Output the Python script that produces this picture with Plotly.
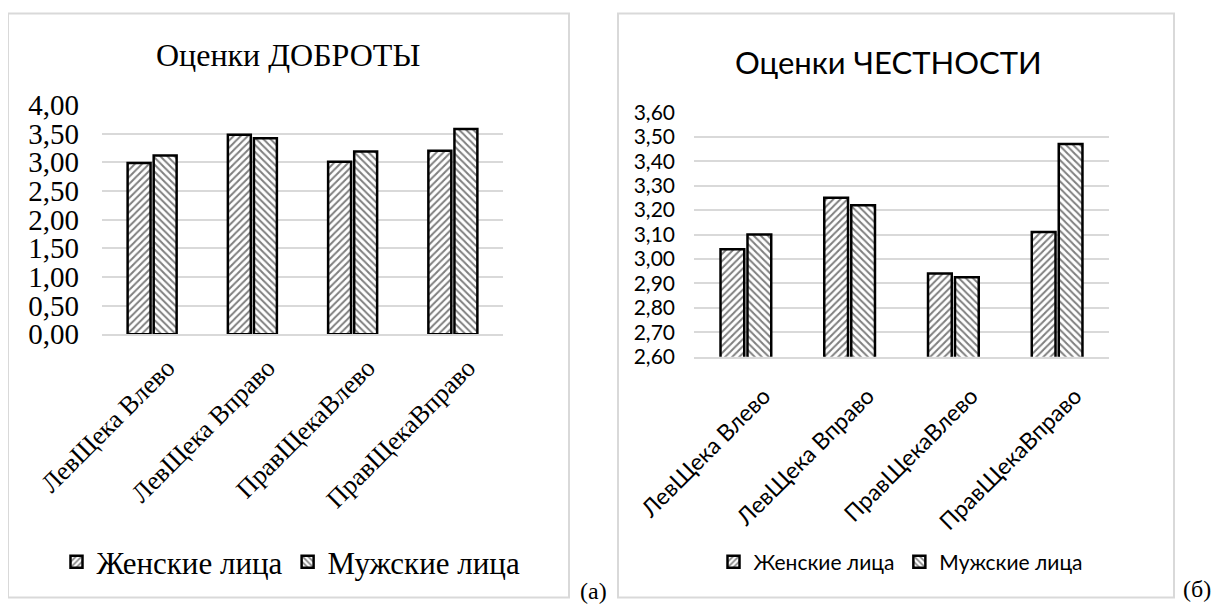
import plotly.graph_objects as go

# page body adds an 8px margin; the figure is sized to fit the window
OFF = 8
W, H = 1220 - OFF, 606 - OFF

categories = ["ЛевЩека Влево", "ЛевЩека Вправо", "ПравЩекаВлево", "ПравЩекаВправо"]
series_names = ["Женские лица", "Мужские лица"]

kind_female = [2.99, 3.48, 3.01, 3.20]
kind_male = [3.12, 3.42, 3.19, 3.58]

honest_female = [3.04, 3.25, 2.94, 3.11]
honest_male = [3.10, 3.22, 2.925, 3.47]

title_left = "Оценки ДОБРОТЫ"
title_right = "Оценки ЧЕСТНОСТИ"

SERIF = "Liberation Serif, Times New Roman, serif"
SANS = "Lato, Carlito, Calibri, Open Sans, sans-serif"
GRID = "#d9d9d9"


def px_x(v):
    return (v - OFF) / W


def px_y(v):
    return 1 - (v - OFF) / H


fig = go.Figure()

patterns = ["/", "\\"]
for i, (name, vals) in enumerate(zip(series_names, [kind_female, kind_male])):
    fig.add_trace(go.Bar(
        x=categories, y=vals, name=name, xaxis="x", yaxis="y", legend="legend",
        marker=dict(color="white", line=dict(color="black", width=2.5),
                    pattern=dict(shape=patterns[i], fgcolor="black", bgcolor="white",
                                 size=5, solidity=0.4)),
    ))
for i, (name, vals) in enumerate(zip(series_names, [honest_female, honest_male])):
    fig.add_trace(go.Bar(
        x=categories, y=vals, name=name, xaxis="x2", yaxis="y2", legend="legend2",
        marker=dict(color="white", line=dict(color="black", width=2.5),
                    pattern=dict(shape=patterns[i], fgcolor="black", bgcolor="white",
                                 size=5, solidity=0.4)),
    ))

fig.update_layout(
    width=W, height=H,
    margin=dict(l=0, r=0, t=0, b=0, autoexpand=False),
    paper_bgcolor="white", plot_bgcolor="white",
    separators=",.",
    barmode="group", bargap=0.48, bargroupgap=0.12,
    xaxis=dict(domain=[px_x(102), px_x(503)], anchor="y", tickangle=-45, automargin=False,
               showgrid=False, showline=True, linecolor=GRID, linewidth=1.5,
               ticks="", tickfont=dict(family=SERIF, size=26, color="black"),
               ticklabelstandoff=6, ticklabelshift=15),
    yaxis=dict(domain=[px_y(334.3), px_y(105)], anchor="x", range=[0, 4], dtick=0.5,
               automargin=False,
               tickformat=".2f", showgrid=True, gridcolor=GRID, gridwidth=1.5,
               zeroline=False, showline=False, ticks="",
               tickfont=dict(family=SERIF, size=29, color="black"),
               ticklabelstandoff=22),
    xaxis2=dict(domain=[px_x(694), px_x(1109)], anchor="y2", tickangle=-45, automargin=False,
                showgrid=False, showline=True, linecolor=GRID, linewidth=1.5,
                ticks="", tickfont=dict(family=SANS, size=23, color="black"),
                ticklabelstandoff=15, ticklabelshift=18),
    yaxis2=dict(domain=[px_y(356.7), px_y(112.3)], anchor="x2", range=[2.6, 3.6], dtick=0.1,
                automargin=False,
                tickformat=".2f", showgrid=True, gridcolor=GRID, gridwidth=1.5,
                zeroline=False, showline=False, ticks="",
                tickfont=dict(family=SANS, size=21, color="black"),
                ticklabelstandoff=18),
    legend=dict(orientation="h", x=px_x(291), xanchor="center", y=px_y(562), yanchor="middle",
                font=dict(family=SERIF, size=31, color="black"), bgcolor="rgba(0,0,0,0)",
                itemwidth=30),
    legend2=dict(orientation="h", x=px_x(901), xanchor="center", y=px_y(562), yanchor="middle",
                 font=dict(family=SANS, size=21, color="black"), bgcolor="rgba(0,0,0,0)",
                 itemwidth=30),
    showlegend=True,
)

# chart frames
for x0, x1 in [(8, 569), (618, 1174)]:
    fig.add_shape(type="rect", xref="paper", yref="paper",
                  x0=px_x(x0), x1=px_x(x1), y0=px_y(597.5), y1=px_y(13.5),
                  line=dict(color=GRID, width=2), fillcolor="rgba(0,0,0,0)", layer="below")

fig.add_annotation(text=title_left, xref="paper", yref="paper", x=px_x(288), y=px_y(55),
                   xanchor="center", yanchor="middle", showarrow=False,
                   font=dict(family=SERIF, size=32, color="black"))
fig.add_annotation(text=title_right, xref="paper", yref="paper", x=px_x(888), y=px_y(62),
                   xanchor="center", yanchor="middle", showarrow=False,
                   font=dict(family=SANS, size=31, color="black"))
fig.add_annotation(text="(а)", xref="paper", yref="paper", x=px_x(593), y=px_y(591),
                   xanchor="center", yanchor="middle", showarrow=False,
                   font=dict(family=SERIF, size=24, color="black"))
fig.add_annotation(text="(б)", xref="paper", yref="paper", x=px_x(1197), y=px_y(589),
                   xanchor="center", yanchor="middle", showarrow=False,
                   font=dict(family=SERIF, size=24, color="black"))

fig.write_html("out.html")
